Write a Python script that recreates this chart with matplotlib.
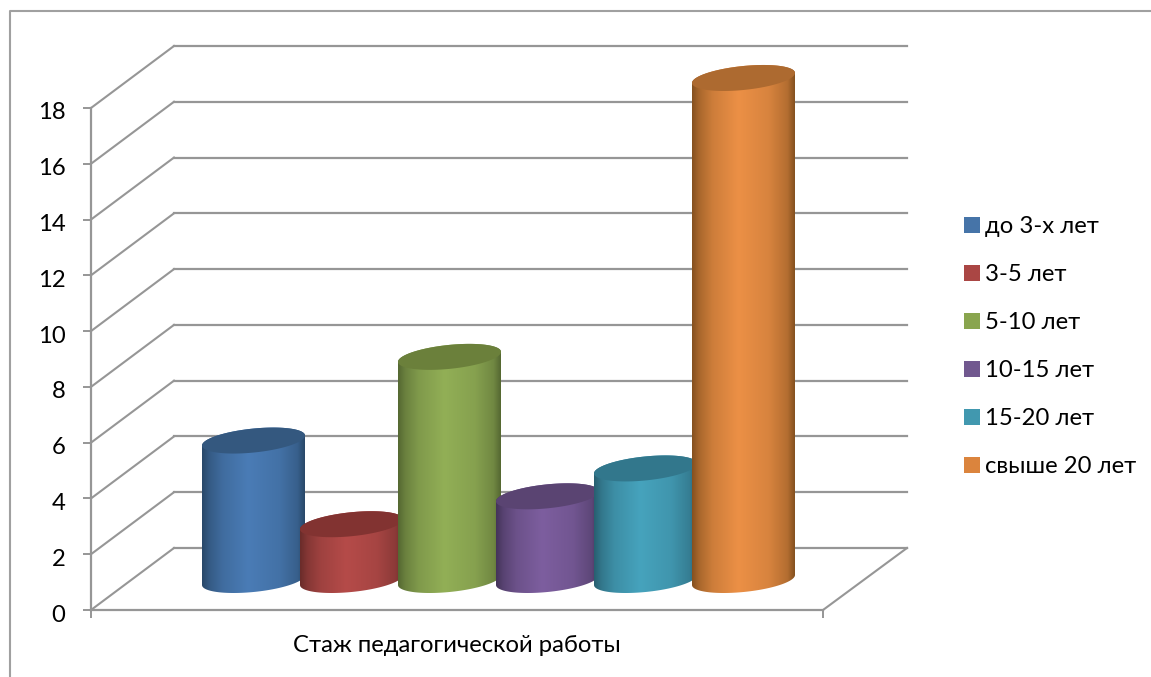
import numpy as np
import matplotlib
matplotlib.use('Agg')
import matplotlib.pyplot as plt
from matplotlib.patches import Patch, Polygon
from matplotlib.colors import to_rgb
from matplotlib.transforms import ScaledTranslation

plt.rcParams['font.family'] = ['Lato', 'Open Sans', 'DejaVu Sans']

# data
categories = ['до 3-х лет', '3-5 лет', '5-10 лет', '10-15 лет', '15-20 лет', 'свыше 20 лет']
values = [5, 2, 8, 3, 4, 18]
y_ticks = [0, 2, 4, 6, 8, 10, 12, 14, 16, 18]
x_label = 'Стаж педагогической работы'

# colours: legend, bright middle, dark edge, top cap
legend_colors = ['#4674a8', '#aa4644', '#89a54e', '#71588f', '#4198af', '#db843d']
mid_colors = ['#4a7cb6', '#b54b49', '#92af56', '#7d5e9f', '#46a3bd', '#ec9046']
edge_colors = ['#294869', '#6a2c2a', '#556832', '#443459', '#285f70', '#85511f']
top_colors = ['#34587f', '#823331', '#6b803b', '#5a4472', '#32778c', '#ad6a30']

GRAY = '#969696'
W, H = 1151, 677
PX_PER_UNIT = 27.89   # pixels per value unit
Y0 = 610              # pixel row of value 0
DX, DY = 83, 62       # depth offset of the back wall, pixels
FONT = 17.2

fig = plt.figure(figsize=(W / 100, H / 100), dpi=100)
ax = fig.add_axes([0, 0, 1, 1])


def px_y(row):
    return (Y0 - row) / PX_PER_UNIT


# back wall and side wall grid
back_y = DY / PX_PER_UNIT
for v in y_ticks:
    ax.plot([91 + DX, 907], [v + back_y, v + back_y], color=GRAY, lw=1.6, zorder=1)
    ax.plot([91, 91 + DX], [v, v + back_y], color=GRAY, lw=1.5, zorder=1)
ax.plot([823, 907], [0, back_y], color=GRAY, lw=1.5, zorder=1)

# cylinders
half_w = 51.5
base = px_y(580)
tilt = 5 / PX_PER_UNIT
half_h = 12 / PX_PER_UNIT
stops = [0, 0.07, 0.2, 0.45, 0.75, 0.93, 1]
weights = [0, 0.35, 0.7, 1, 0.8, 0.45, 0]

for i, val in enumerate(values):
    cx = 253.5 + 98 * i
    top = base + val
    z = 3 + i
    t_low = np.linspace(np.pi, 2 * np.pi, 60)
    t_up = np.linspace(0, np.pi, 60)
    low = np.column_stack([cx + half_w * np.cos(t_low),
                           base + tilt * np.cos(t_low) + half_h * np.sin(t_low)])
    up = np.column_stack([cx + half_w * np.cos(t_up),
                          top + tilt * np.cos(t_up) + half_h * np.sin(t_up)])
    body = Polygon(np.vstack([low, up]), closed=True, fc='none', ec='none', zorder=z)
    ax.add_patch(body)

    # horizontal shading clipped to the body
    u = np.linspace(0, 1, 200)
    w = np.interp(u, stops, weights)[None, :, None]
    grad = np.array(to_rgb(edge_colors[i])) * (1 - w) + np.array(to_rgb(mid_colors[i])) * w
    im = ax.imshow(grad, extent=[cx - half_w, cx + half_w, base - 1, top + 1],
                   aspect='auto', interpolation='bilinear', zorder=z)
    im.set_clip_path(body)

    t = np.linspace(0, 2 * np.pi, 120)
    cap = np.column_stack([cx + half_w * np.cos(t),
                           top + tilt * np.cos(t) + half_h * np.sin(t)])
    ax.add_patch(Polygon(cap, closed=True, fc=top_colors[i], ec='none', zorder=z + 0.5))

ax.set_xlim(0, W)
ax.set_ylim((Y0 - H) / PX_PER_UNIT, Y0 / PX_PER_UNIT)
ax.patch.set_alpha(0)

# axes
for name in ['top', 'right']:
    ax.spines[name].set_visible(False)
ax.spines['left'].set_position(('data', 91))
ax.spines['left'].set_bounds(0, 18)
ax.spines['bottom'].set_position(('data', 0))
ax.spines['bottom'].set_bounds(91, 823)
for name in ['left', 'bottom']:
    ax.spines[name].set_color(GRAY)
    ax.spines[name].set_linewidth(1.6)
ax.set_yticks(y_ticks)
ax.set_xticks([91, 823])
ax.set_xticklabels(['', ''])
ax.tick_params(axis='y', length=5.8, width=1.4, color=GRAY, labelsize=FONT, pad=12.5, labelcolor='black')
ax.tick_params(axis='x', length=5.8, width=1.4, color=GRAY)

# labels sit a little below their ticks in the original
shift = ScaledTranslation(0, -3 / 100, fig.dpi_scale_trans)
for lab in ax.get_yticklabels():
    lab.set_transform(lab.get_transform() + shift)

ax.text(457, px_y(646), x_label, ha='center', va='center', fontsize=FONT)

# outer chart frame
ax.plot([10, 10, W], [px_y(H), px_y(11), px_y(11)], color='#a0a0a0', lw=1.5, zorder=1, clip_on=False)

handles = [Patch(fc=c, ec='none') for c in legend_colors]
ax.legend(handles, categories, loc='upper left', bbox_to_anchor=(964 / W, 1 - 216 / H),
          frameon=False, fontsize=FONT, handlelength=0.65, handleheight=0.65,
          handletextpad=0.23, labelspacing=1.132, borderaxespad=0, borderpad=0)

fig.savefig('out.png', dpi=100)
